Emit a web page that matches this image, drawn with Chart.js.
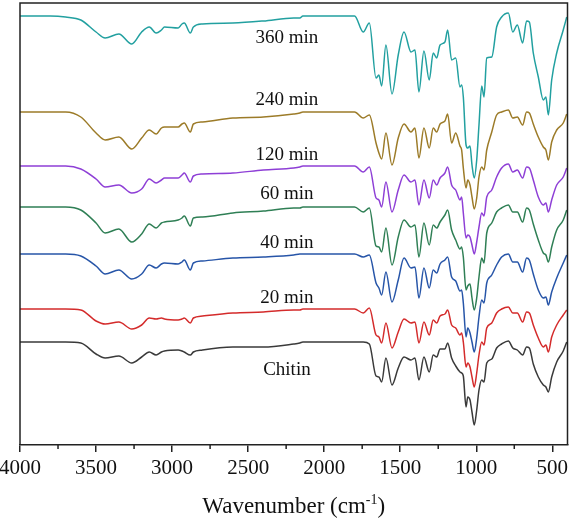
<!DOCTYPE html>
<html>
<head>
<meta charset="utf-8">
<script src="https://cdn.jsdelivr.net/npm/chart.js@4.4.1/dist/chart.umd.min.js"></script>
<style>
  html, body { margin: 0; padding: 0; background: #fff; }
  canvas { display: block; }
</style>
</head>
<body>
<canvas id="ftirChart" width="574" height="525"></canvas>
<script>
// wavenumber grid (cm-1) shared by every spectrum
const wavenumbers = [4000, 3800, 3700, 3600, 3500, 3440, 3350, 3265, 3200, 3150,
  3105, 3070, 3050, 2960, 2935, 2920, 2880, 2860, 2800, 2600,
  2400, 2200, 2160, 2140, 2000, 1800, 1743, 1703, 1659, 1640,
  1622, 1594, 1554, 1513, 1475, 1429, 1403, 1377, 1344, 1309,
  1283, 1260, 1238, 1206, 1188, 1162, 1135, 1107, 1096, 1085,
  1067, 1056, 1041, 1028, 1013, 997, 982, 964, 949, 931,
  898, 866, 833, 789, 760, 730, 695, 669, 651, 625,
  592, 559, 542, 526, 504, 471, 428, 405];

// stacked spectra, offset units counted downward from the top of the plot
const min360 = [16, 16, 17, 20, 32, 38, 34, 44, 32, 27,
  33, 30, 27, 28, 24, 23, 33, 27, 24, 23,
  21, 18, 18, 16, 16, 16, 32, 23, 78, 75,
  86, 45, 94, 55, 32, 52, 50, 92, 51, 80,
  53, 58, 45, 42, 30, 60, 58, 87, 85, 97,
  145, 148, 146, 165, 178, 160, 125, 86, 97, 58,
  57, 27, 17, 13, 32, 25, 43, 21, 22, 53,
  77, 100, 97, 115, 80, 53, 30, 17];

const min240 = [112, 112, 112, 117, 133, 140, 137, 149, 138, 130,
  134, 128, 127, 127, 124, 123, 132, 124, 122, 118,
  117, 114, 113, 112, 112, 112, 118, 115, 143, 153,
  159, 133, 165, 138, 124, 132, 128, 158, 128, 148,
  128, 132, 124, 121, 114, 143, 133, 146, 150, 168,
  188, 180, 185, 197, 209, 198, 177, 167, 170, 150,
  132, 115, 112, 110, 118, 117, 125, 112, 113, 124,
  137, 147, 150, 160, 142, 130, 123, 114];

const min120 = [166, 166, 166, 169, 179, 187, 185, 193, 189, 179,
  183, 180, 178, 178, 175, 173, 182, 176, 174, 173,
  170, 168, 167, 166, 166, 166, 172, 167, 198, 200,
  207, 182, 212, 190, 175, 182, 180, 205, 180, 198,
  180, 185, 178, 173, 167, 185, 190, 200, 197, 213,
  238, 235, 237, 245, 254, 242, 227, 213, 216, 197,
  190, 177, 168, 164, 172, 170, 178, 167, 168, 180,
  197, 205, 203, 212, 200, 185, 177, 168];

const min60 = [207, 207, 207, 210, 223, 233, 229, 242, 234, 224,
  228, 223, 222, 220, 218, 216, 226, 218, 217, 213,
  211, 208, 208, 207, 207, 207, 212, 208, 246, 247,
  252, 228, 265, 237, 220, 227, 225, 257, 223, 245,
  225, 228, 222, 215, 210, 230, 240, 249, 247, 257,
  290, 286, 284, 298, 310, 298, 277, 258, 263, 233,
  223, 212, 208, 205, 212, 212, 222, 208, 210, 224,
  240, 253, 255, 262, 247, 230, 220, 210];

const min40 = [254, 254, 254, 256, 266, 274, 270, 279, 274, 265,
  268, 264, 263, 264, 262, 260, 270, 263, 261, 258,
  257, 255, 254, 254, 254, 254, 257, 255, 283, 288,
  295, 272, 302, 280, 258, 268, 267, 298, 268, 288,
  270, 273, 264, 260, 257, 277, 281, 291, 290, 303,
  337, 328, 333, 342, 352, 338, 317, 300, 303, 283,
  275, 265, 257, 254, 262, 262, 272, 258, 260, 274,
  290, 298, 297, 305, 292, 278, 263, 255];

const min20 = [309, 309, 309, 310, 321, 324, 322, 329, 325, 318,
  319, 318, 319, 320, 319, 318, 323, 318, 316, 313,
  312, 310, 310, 309, 309, 309, 313, 308, 335, 337,
  343, 323, 348, 332, 319, 323, 322, 343, 322, 335,
  320, 323, 316, 314, 310, 325, 328, 335, 333, 342,
  367, 363, 367, 377, 387, 373, 355, 342, 345, 328,
  323, 313, 309, 307, 313, 313, 322, 312, 313, 325,
  338, 347, 345, 352, 337, 325, 315, 310];

const chitin = [342, 342, 342, 343, 354, 358, 356, 363, 357, 352,
  355, 352, 351, 350, 351, 352, 355, 352, 350, 347,
  347, 344, 343, 342, 342, 342, 342, 344, 376, 377,
  382, 358, 385, 368, 357, 360, 358, 380, 357, 372,
  355, 357, 349, 349, 343, 358, 366, 372, 373, 376,
  407, 397, 400, 412, 425, 410, 390, 380, 382, 363,
  359, 348, 344, 341, 348, 350, 355, 347, 348, 364,
  377, 385, 387, 392, 377, 362, 351, 342];

const sampleNames = ["360 min", "240 min", "120 min", "60 min", "40 min", "20 min", "Chitin"];
const sampleColours = ["#22a0a0", "#9c7b28", "#8e3fd6", "#2f7f55", "#2755a8", "#d42b2b", "#3a3a3a"];
const spectra = [min360, min240, min120, min60, min40, min20, chitin];

const xTickValues = [4000, 3500, 3000, 2500, 2000, 1500, 1000, 500];
const xMinorTicks = [3750, 3250, 2750, 2250, 1750, 1250, 750];

// where the sample names sit (x in cm-1, y baseline in offset units)
const nameX = 2245;
const nameY = [43, 105, 160, 199, 248, 303, 375];

const serif = '"Liberation Serif", "Times New Roman", serif';

const decorations = {
    id: "decorations",
    afterDraw(chart) {
        const { ctx, chartArea: a, scales: { x, y } } = chart;
        ctx.save();

        // frame (left, top, right)
        ctx.strokeStyle = "#222";
        ctx.lineWidth = 1.5;
        ctx.beginPath();
        ctx.moveTo(a.left, a.bottom);
        ctx.lineTo(a.left, a.top);
        ctx.lineTo(a.right, a.top);
        ctx.lineTo(a.right, a.bottom);
        ctx.stroke();

        // minor ticks
        ctx.beginPath();
        xMinorTicks.forEach(v => {
            const px = x.getPixelForValue(v);
            ctx.moveTo(px, a.bottom);
            ctx.lineTo(px, a.bottom + 4);
        });
        ctx.stroke();

        // sample names
        ctx.fillStyle = "#111";
        ctx.font = "19px " + serif;
        ctx.textAlign = "center";
        ctx.textBaseline = "alphabetic";
        sampleNames.forEach((n, i) => {
            ctx.fillText(n, x.getPixelForValue(nameX), y.getPixelForValue(nameY[i]));
        });

        // axis title with superscript
        const main = "Wavenumber (cm";
        const sup = "-1";
        const close = ")";
        ctx.font = "23px " + serif;
        const wMain = ctx.measureText(main).width;
        const wClose = ctx.measureText(close).width;
        ctx.font = "14px " + serif;
        const wSup = ctx.measureText(sup).width;
        const total = wMain + wSup + wClose;
        const cx = (a.left + a.right) / 2;
        const base = 513;
        let sx = cx - total / 2;
        ctx.textAlign = "left";
        ctx.font = "23px " + serif;
        ctx.fillText(main, sx, base);
        sx += wMain;
        ctx.font = "14px " + serif;
        ctx.fillText(sup, sx, base - 9);
        sx += wSup;
        ctx.font = "23px " + serif;
        ctx.fillText(close, sx, base);

        ctx.restore();
    }
};

const ctx = document.getElementById("ftirChart").getContext("2d");

new Chart(ctx, {
    type: "line",
    data: {
        datasets: spectra.map((s, i) => ({
            label: sampleNames[i],
            data: wavenumbers.map((w, j) => ({ x: w, y: s[j] })),
            borderColor: sampleColours[i],
            borderWidth: 1.5,
            pointRadius: 0,
            fill: false,
            cubicInterpolationMode: "monotone"
        }))
    },
    options: {
        responsive: false,
        animation: false,
        layout: { padding: { left: 20, right: 6.5, top: 3, bottom: 0 } },
        plugins: {
            legend: { display: false },
            tooltip: { enabled: false }
        },
        scales: {
            x: {
                type: "linear",
                reverse: true,
                min: 400,
                max: 4000,
                afterBuildTicks: scale => {
                    scale.ticks = xTickValues.map(v => ({ value: v }));
                },
                afterFit: scale => {
                    scale.height = 80;
                    scale.paddingLeft = 0;
                    scale.paddingRight = 0;
                },
                grid: {
                    drawOnChartArea: false,
                    drawTicks: true,
                    tickLength: 7,
                    color: "#222",
                    lineWidth: 1.5
                },
                border: { display: true, color: "#222", width: 1.5 },
                ticks: {
                    color: "#111",
                    padding: 4,
                    maxRotation: 0,
                    autoSkip: false,
                    callback: v => String(v),
                    font: { family: serif, size: 21 }
                }
            },
            y: {
                display: false,
                reverse: true,
                min: 3,
                max: 445
            }
        }
    },
    plugins: [decorations]
});
</script>
</body>
</html>
